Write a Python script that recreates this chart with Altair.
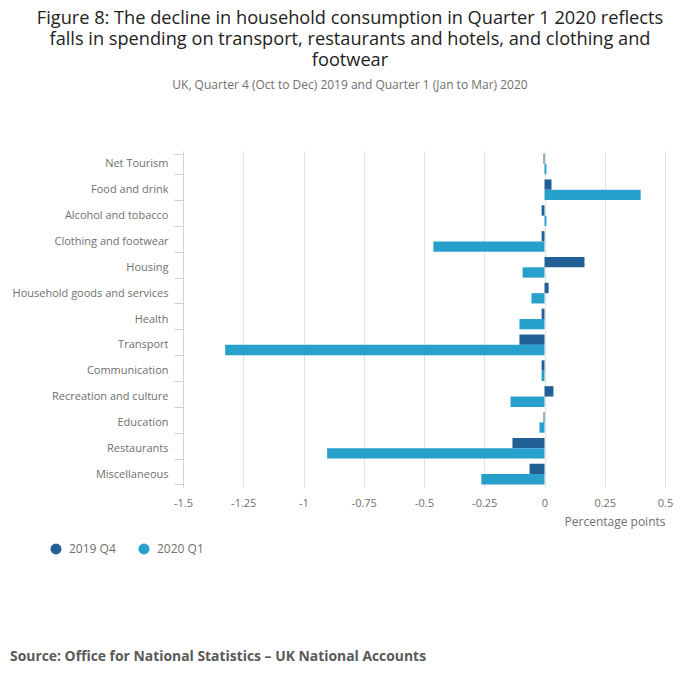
import altair as alt
import pandas as pd

categories = [
    "Net Tourism", "Food and drink", "Alcohol and tobacco", "Clothing and footwear",
    "Housing", "Household goods and services", "Health", "Transport",
    "Communication", "Recreation and culture", "Education", "Restaurants",
    "Miscellaneous",
]
q4_2019 = [-0.004, 0.029, -0.012, -0.012, 0.166, 0.017, -0.012, -0.104,
           -0.012, 0.037, -0.004, -0.133, -0.062]
q1_2020 = [0.008, 0.399, 0.008, -0.461, -0.091, -0.054, -0.104, -1.325,
           -0.012, -0.141, -0.021, -0.902, -0.262]
series = ["2019 Q4", "2020 Q1"]
colors = ["#206095", "#27a0cc"]
x_ticks = [-1.5, -1.25, -1, -0.75, -0.5, -0.25, 0, 0.25, 0.5]

rows = []
for c, a, b in zip(categories, q4_2019, q1_2020):
    rows.append({"category": c, "series": series[0], "value": a})
    rows.append({"category": c, "series": series[1], "value": b})
df = pd.DataFrame(rows)

FONT = "Open Sans"
GREY = "#707070"

bars = alt.Chart(df).mark_bar().encode(
    y=alt.Y("category:N", sort=categories,
            scale=alt.Scale(paddingInner=0.2, paddingOuter=0.1),
            axis=alt.Axis(title=None, grid=False, domainColor="#c6d3e8",
                          tickColor="#c6d3e8", tickSize=9, tickBand="extent",
                          labelPadding=6, labelColor=GREY, labelFontSize=11,
                          labelFont=FONT)),
    yOffset=alt.YOffset("series:N", sort=series),
    x=alt.X("value:Q", scale=alt.Scale(domain=[-1.5, 0.5], nice=False, zero=False),
            axis=alt.Axis(title="Percentage points", values=x_ticks,
                          labelExpr="datum.value + ''", labelFlush=False,
                          grid=True, gridColor="#e2e2e2", domain=False, ticks=False,
                          labelPadding=10, labelColor=GREY, labelFontSize=11,
                          labelFont=FONT, titleAnchor="end", titleColor=GREY,
                          titleFontSize=12, titleFontWeight="normal",
                          titleFont=FONT, titlePadding=8)),
    color=alt.Color("series:N", sort=series,
                    scale=alt.Scale(domain=series, range=colors),
                    legend=alt.Legend(title=None, orient="none", direction="horizontal",
                                      legendX=-133, legendY=392, symbolType="circle",
                                      symbolSize=120, symbolStrokeWidth=0,
                                      labelColor=GREY, labelFontSize=12,
                                      labelFont=FONT, labelOffset=7,
                                      columnPadding=22)),
)

source = alt.Chart(pd.DataFrame({"t": ["Source: Office for National Statistics \u2013 UK National Accounts"]})).mark_text(
    align="left", baseline="middle", font=FONT, fontSize=13.9, fontWeight="bold",
    color="#595959"
).encode(text="t:N", x=alt.value(-173), y=alt.value(506))

chart = alt.layer(bars, source).properties(
    width=482,
    height=336,
    autosize=alt.AutoSizeParams(type="none"),
    padding={"left": 175, "top": 143, "right": 19, "bottom": 178},
    title=alt.TitleParams(
        text=["Figure 8: The decline in household consumption in Quarter 1 2020 reflects",
              "falls in spending on transport, restaurants and hotels, and clothing and",
              "footwear"],
        subtitle="UK, Quarter 4 (Oct to Dec) 2019 and Quarter 1 (Jan to Mar) 2020",
        anchor="middle", dx=-74, offset=53, font=FONT, fontSize=18.2,
        fontWeight="normal", color="#222222", lineHeight=21,
        subtitleFont=FONT, subtitleFontSize=12, subtitleColor=GREY,
        subtitlePadding=10,
    ),
).configure_view(stroke=None)

chart.save("out.html", embed_options={"renderer": "svg", "actions": False})
